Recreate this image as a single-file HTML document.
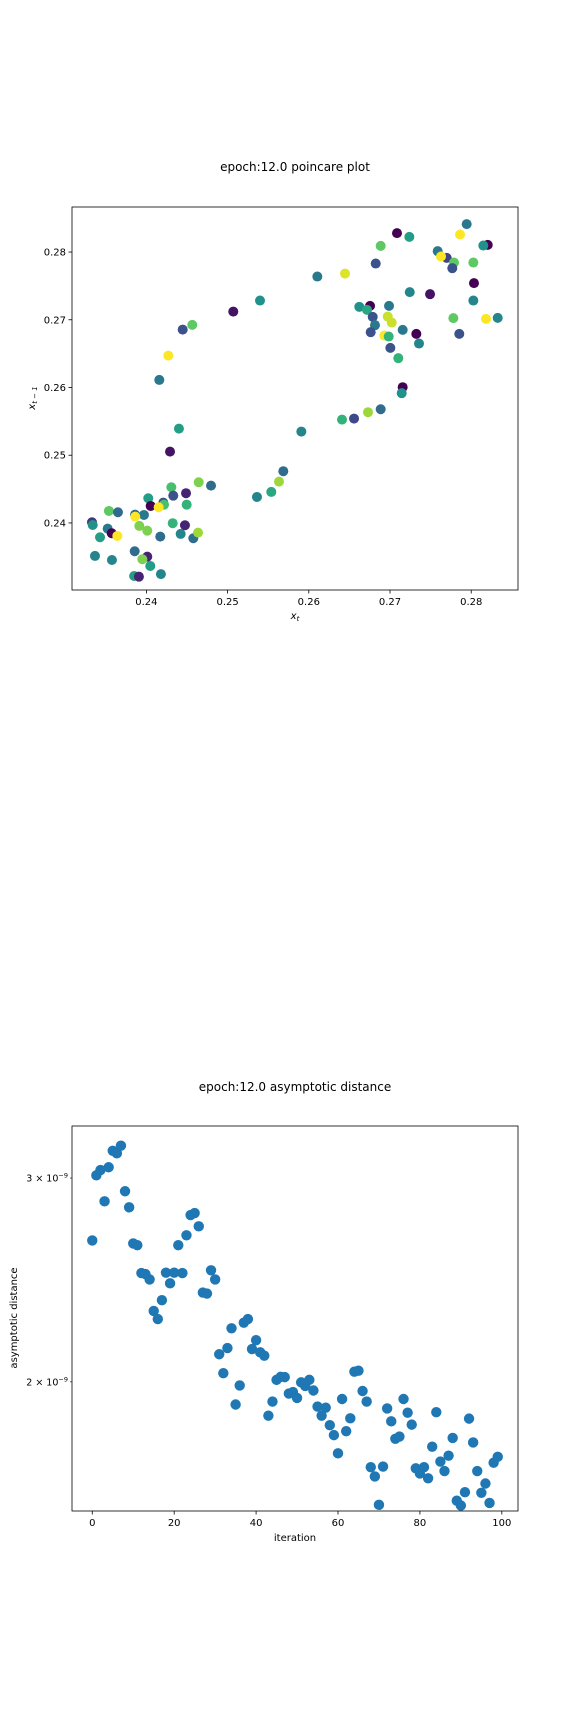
<!DOCTYPE html>
<html><head><meta charset="utf-8">
<style>
html,body{margin:0;padding:0;background:#fff;}
svg{display:block;font-family:"DejaVu Sans","Liberation Sans",sans-serif;}
</style></head>
<body>
<svg id="fig" width="576" height="1728" viewBox="0 0 576 1728" xmlns="http://www.w3.org/2000/svg">
<rect width="576" height="1728" fill="#fff"/>
<text x="295" y="171" font-size="12" text-anchor="middle">epoch:12.0 poincare plot</text>
<g id="top-plot"></g>
<text x="295" y="1091" font-size="12" text-anchor="middle">epoch:12.0 asymptotic distance</text>
<g id="bot-plot"></g>
</svg>
<script>
// ---- Poincare data ----
const poincareX = [0.27086,0.27238,0.26885,0.26824,0.27944,0.27862,0.27587,0.27698,0.27628,0.27788,0.27767,0.28026,0.28034,0.28026,0.27780,0.27853,0.27493,0.27243,0.26105,0.26446,0.25399,0.25070,0.24447,0.24565,0.24270,0.24159,0.26622,0.26754,0.26717,0.26988,0.26787,0.26815,0.26762,0.26972,0.27021,0.26930,0.26984,0.27156,0.27324,0.27357,0.27004,0.27102,0.27156,0.27144,0.26885,0.26729,0.26557,0.26409,0.25908,0.24401,0.24291,0.25686,0.25633,0.25538,0.25362,0.24796,0.24644,0.24307,0.24331,0.24488,0.24023,0.24208,0.24217,0.24053,0.24151,0.24496,0.23539,0.23650,0.23860,0.23970,0.23863,0.23330,0.23339,0.23523,0.23573,0.23429,0.23642,0.23913,0.24011,0.24324,0.24475,0.24422,0.24578,0.24636,0.24171,0.23367,0.23576,0.23856,0.24011,0.23950,0.24048,0.23849,0.23908,0.24179,0.28203,0.28149,0.28182,0.28326];
const poincareY = [0.28279,0.28224,0.28091,0.27830,0.28412,0.28259,0.28013,0.27914,0.27934,0.27845,0.27762,0.27845,0.27541,0.27284,0.27024,0.26792,0.27378,0.27408,0.27638,0.27682,0.27284,0.27121,0.26855,0.26925,0.26471,0.26112,0.27191,0.27205,0.27146,0.27205,0.27043,0.26920,0.26817,0.27047,0.26959,0.26767,0.26752,0.26851,0.26792,0.26649,0.26585,0.26433,0.26004,0.25916,0.25679,0.25635,0.25541,0.25526,0.25349,0.25393,0.25053,0.24764,0.24610,0.24458,0.24384,0.24551,0.24601,0.24527,0.24403,0.24439,0.24365,0.24300,0.24270,0.24251,0.24232,0.24270,0.24177,0.24158,0.24123,0.24118,0.24093,0.24010,0.23970,0.23916,0.23848,0.23789,0.23808,0.23956,0.23886,0.23996,0.23966,0.23838,0.23774,0.23857,0.23798,0.23513,0.23453,0.23582,0.23502,0.23464,0.23365,0.23217,0.23207,0.23244,0.28106,0.28096,0.27013,0.27028];
const poincareColor = [0.0,0.55,0.75,0.25,0.4,1,0.4,0.2,1,0.75,0.25,0.75,0.0,0.45,0.75,0.25,0.05,0.45,0.4,0.95,0.5,0.05,0.25,0.75,1,0.4,0.5,0.0,0.6,0.4,0.25,0.4,0.25,0.92,0.92,1,0.65,0.4,0.0,0.45,0.25,0.65,0.0,0.5,0.35,0.85,0.22,0.65,0.45,0.55,0.05,0.35,0.85,0.6,0.45,0.35,0.8,0.7,0.25,0.1,0.55,0.25,0.7,0.0,1,0.65,0.75,0.35,0.35,0.4,1,0.15,0.5,0.4,0.0,0.55,1,0.8,0.8,0.65,0.1,0.45,0.35,0.85,0.35,0.45,0.45,0.35,0.1,0.8,0.55,0.55,0.1,0.45,0.0,0.5,1,0.45];
const poincareTicks = [0.24,0.25,0.26,0.27,0.28];
const poincareTickLabels = ["0.24","0.25","0.26","0.27","0.28"];

// ---- Asymptotic distance data (units of 1e-9) ----
const distValues = [2.650,3.016,3.048,2.864,3.065,3.167,3.151,3.199,2.922,2.830,2.634,2.625,2.483,2.478,2.452,2.303,2.266,2.353,2.485,2.433,2.485,2.625,2.483,2.677,2.787,2.798,2.725,2.389,2.384,2.497,2.452,2.113,2.035,2.139,2.225,1.912,1.986,2.250,2.266,2.135,2.173,2.121,2.107,1.870,1.923,2.008,2.020,2.019,1.954,1.960,1.937,1.998,1.984,2.008,1.966,1.904,1.870,1.900,1.835,1.799,1.735,1.933,1.813,1.860,2.041,2.045,1.964,1.923,1.688,1.657,1.566,1.690,1.897,1.849,1.786,1.794,1.933,1.881,1.837,1.684,1.667,1.688,1.651,1.758,1.883,1.707,1.675,1.727,1.789,1.579,1.564,1.606,1.859,1.773,1.675,1.604,1.634,1.572,1.703,1.723];
const distXTicks = [0,20,40,60,80,100];
const distYTicks = [2,3];
const distYTickMantissa = ["2","3"];

const NS = "http://www.w3.org/2000/svg";
function mk(tag, attrs, parent){
  const e = document.createElementNS(NS, tag);
  for (const k in attrs) e.setAttribute(k, attrs[k]);
  parent.appendChild(e);
  return e;
}
const stops = ["#440154","#472d7b","#3b528b","#2c728e","#21918c","#28ae80","#5ec962","#addc30","#fde725"];
function hex(h){return [parseInt(h.slice(1,3),16),parseInt(h.slice(3,5),16),parseInt(h.slice(5,7),16)];}
function viridis(t){
  t = Math.max(0, Math.min(1, t));
  const p = t*(stops.length-1), i = Math.min(stops.length-2, Math.floor(p)), f = p-i;
  const a = hex(stops[i]), b = hex(stops[i+1]);
  return "rgb(" + a.map((v,k)=>Math.round(v+(b[k]-v)*f)).join(",") + ")";
}

// ---- top plot ----
(function(){
  const g = document.getElementById("top-plot");
  const L=72,R=518,T=207,B=590;
  const x0=0.23084,x1=0.28576,y0=0.2301,y1=0.28665;
  const sx = v => L + (v-x0)/(x1-x0)*(R-L);
  const sy = v => B - (v-y0)/(y1-y0)*(B-T);
  for (let i=0;i<poincareX.length;i++){
    const c = mk("circle",{cx:sx(poincareX[i]).toFixed(2),cy:sy(poincareY[i]).toFixed(2),r:5,fill:viridis(poincareColor[i])},g);
    
    
  }
  const frame = mk("rect",{x:L,y:T,width:R-L,height:B-T,fill:"none",stroke:"#000","stroke-width":0.8},g);
  
  
  poincareTicks.forEach((t,i)=>{
    const x = sx(t);
    mk("line",{x1:x,x2:x,y1:B,y2:B+3.5,stroke:"#000","stroke-width":0.8},g);
    const tx = mk("text",{x:x,y:B+15,"font-size":10,"text-anchor":"middle"},g);
    tx.textContent = poincareTickLabels[i];
    
    
    const y = sy(t);
    mk("line",{x1:L-3.5,x2:L,y1:y,y2:y,stroke:"#000","stroke-width":0.8},g);
    const ty = mk("text",{x:L-6,y:y+3.5,"font-size":10,"text-anchor":"end"},g);
    ty.textContent = poincareTickLabels[i];
    
    
  });
  const xl = mk("text",{x:295,y:619,"font-size":10,"text-anchor":"middle","font-style":"italic"},g);
  xl.innerHTML = 'x<tspan font-size="7" dy="2">t</tspan>';
  
  
  const yl = mk("text",{x:0,y:0,"font-size":10,"text-anchor":"middle","font-style":"italic",transform:"translate(35,398) rotate(-90)"},g);
  yl.innerHTML = 'x<tspan font-size="7" dy="2">t − 1</tspan>';
  
  
})();

// ---- bottom plot ----
(function(){
  const g = document.getElementById("bot-plot");
  const L=72,R=518,T=1126,B=1511;
  const x0=-4.95,x1=103.95,ly0=Math.log(1.547),ly1=Math.log(3.327);
  const sx = v => L + (v-x0)/(x1-x0)*(R-L);
  const sy = v => B - (Math.log(v)-ly0)/(ly1-ly0)*(B-T);
  for (let i=0;i<distValues.length;i++){
    const c = mk("circle",{cx:sx(i).toFixed(2),cy:sy(distValues[i]).toFixed(2),r:5.2,fill:"#1f77b4"},g);
    
    
  }
  const frame = mk("rect",{x:L,y:T,width:R-L,height:B-T,fill:"none",stroke:"#000","stroke-width":0.8},g);
  
  
  distXTicks.forEach(t=>{
    const x = sx(t);
    mk("line",{x1:x,x2:x,y1:B,y2:B+3.5,stroke:"#000","stroke-width":0.8},g);
    const tx = mk("text",{x:x,y:B+15,"font-size":10,"text-anchor":"middle"},g);
    tx.textContent = String(t);
    
    
  });
  distYTicks.forEach((t,i)=>{
    const y = sy(t);
    mk("line",{x1:L-2,x2:L,y1:y,y2:y,stroke:"#000","stroke-width":0.6},g);
    const ty = mk("text",{x:L-4,y:y+3.5,"font-size":9.5,"text-anchor":"end"},g);
    ty.innerHTML = distYTickMantissa[i] + ' × 10<tspan font-size="6.5" dy="-4">−9</tspan>';
    
    
  });
  const xl = mk("text",{x:295,y:1541,"font-size":10,"text-anchor":"middle"},g);
  xl.textContent = "iteration";
  
  
  const yl = mk("text",{x:0,y:0,"font-size":10,"text-anchor":"middle",transform:"translate(17,1318) rotate(-90)"},g);
  yl.textContent = "asymptotic distance";
  
  
})();
</script>
</body></html>
